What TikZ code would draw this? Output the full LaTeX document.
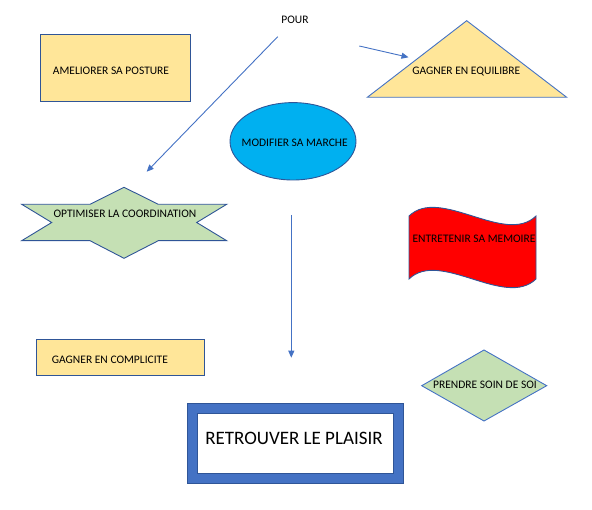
\documentclass[tikz,border=0pt]{standalone}
\usepackage{fontspec}
\setmainfont{Carlito}
\usetikzlibrary{arrows.meta}
\definecolor{yel}{HTML}{FFE699}
\definecolor{grn}{HTML}{C5E0B4}
\definecolor{cyanb}{HTML}{00B0F0}
\definecolor{bord}{HTML}{2F5597}
\definecolor{arr}{HTML}{4472C4}
\tikzset{
  shp/.style={draw=bord, line width=0.9pt, line join=miter},
  lbl/.style={inner sep=0pt, font=\fontsize{11.5}{13}\selectfont, text=black},
  conn/.style={draw=arr, line width=0.9pt, -{Triangle[length=7pt,width=6pt]}}
}
\begin{document}
\begin{tikzpicture}[x=1pt,y=-1pt]
\useasboundingbox (0,0) rectangle (592,510);
% rectangles
\path[shp, fill=yel] (40,34.3) rectangle (190.7,101);
\node[lbl, anchor=west] (posture) at (52.7,71) {AMELIORER SA POSTURE};
\path[shp, fill=yel] (36.7,339.3) rectangle (204,375.7);
\node[lbl, anchor=west] (complicite) at (51.7,360) {GAGNER EN COMPLICITE};
% triangle
\path[shp, draw=arr, fill=yel] (466.7,20.7) -- (566.7,97.3) -- (367.3,97.3) -- cycle;
\node[lbl] (equilibre) at (466.3,71.7) {GAGNER EN EQUILIBRE};
% ellipse
\path[shp, fill=cyanb] (293,141.3) ellipse [x radius=63, y radius=38.7];
\node[lbl] (marche) at (294.7,143.3) {MODIFIER SA MARCHE};
% star
\path[shp, fill=grn] (21.7,204.3) -- (90,204.3) -- (124,187.3) -- (158.3,204.3) -- (226.7,204.3)
  -- (196.7,222.5) -- (226.7,240.7) -- (158.3,240.7) -- (124,258.3) -- (90,240.7)
  -- (21.7,240.7) -- (51.7,222.5) -- cycle;
\node[lbl] (coord) at (125,214) {OPTIMISER LA COORDINATION};
% wave
\path[shp, fill=red] (409,216) .. controls (440,186) and (505,246) .. (536,216)
  -- (536,279) .. controls (505,309) and (440,249) .. (409,279) -- cycle;
\node[lbl] (memoire) at (474,239.3) {ENTRETENIR SA MEMOIRE};
% diamond
\path[shp, draw=arr, fill=grn] (484,350) -- (546.7,385.7) -- (484,421) -- (421.7,385.7) -- cycle;
\node[lbl] (soin) at (485,385) {PRENDRE SOIN DE SOI};
% plaisir
\path[draw=bord, line width=0.8pt, fill=arr] (187.3,403.3) rectangle (403.3,483.3);
\path[draw=bord, line width=0.8pt, fill=white] (197.3,413.3) rectangle (393.3,473.3);
\node[lbl, font=\fontsize{19}{22}\selectfont] (plaisir) at (294,438.3) {RETROUVER LE PLAISIR};
% pour
\node[lbl] (pour) at (295,20) {POUR};
% connectors
\coordinate (a1) at (277.7,36.7);
\coordinate (a2) at (146.7,171.7);
\coordinate (b1) at (359.3,46);
\coordinate (b2) at (408.5,57.3);
\coordinate (c1) at (291.3,215);
\coordinate (c2) at (291.3,357.7);
\draw[conn] (a1) -- (a2);
\draw[conn] (b1) -- (b2);
\draw[conn] (c1) -- (c2);
\end{tikzpicture}
\end{document}
